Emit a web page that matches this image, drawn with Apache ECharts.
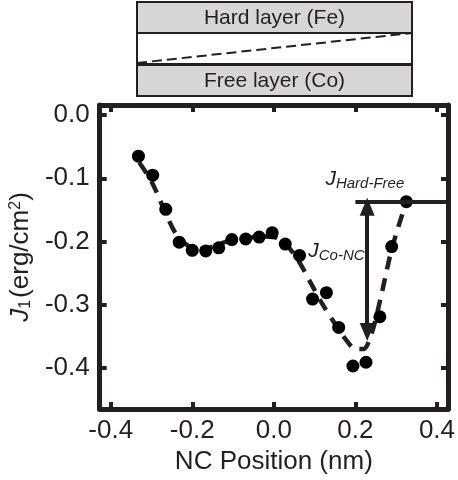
<!DOCTYPE html>
<html>
<head>
<meta charset="utf-8">
<script src="https://cdn.jsdelivr.net/npm/echarts@6/dist/echarts.min.js"></script>
<style>
  html, body { margin: 0; padding: 0; background: #fff; }
  #chart { width: 458px; height: 480px; }
</style>
</head>
<body>
<div id="chart"></div>
<script>
// measured points
var posX = [-0.332, -0.297, -0.265, -0.232, -0.200, -0.167, -0.135, -0.103, -0.069, -0.036, -0.004, 0.028, 0.063,
  0.095, 0.129, 0.159, 0.194, 0.226, 0.260, 0.289, 0.325];
var j1 = [-0.065, -0.095, -0.149, -0.201, -0.214, -0.215, -0.210, -0.197, -0.196, -0.193, -0.186, -0.204, -0.222,
  -0.291, -0.281, -0.336, -0.397, -0.391, -0.319, -0.208, -0.137];

// dashed guide curve
var fitX = [-0.33, -0.30, -0.27, -0.24, -0.21, -0.18, -0.15, -0.12, -0.09, -0.06, -0.03, 0.0, 0.03, 0.06, 0.09,
  0.12, 0.15, 0.18, 0.20, 0.22, 0.24, 0.26, 0.29, 0.325];
var fitY = [-0.075, -0.105, -0.148, -0.188, -0.207, -0.212, -0.208, -0.201, -0.196, -0.194, -0.192, -0.193, -0.205,
  -0.230, -0.265, -0.300, -0.330, -0.358, -0.370, -0.370, -0.345, -0.295, -0.210, -0.137];

var xTicks = [-0.4, -0.2, 0.0, 0.2, 0.4];
var yTicks = [0.0, -0.1, -0.2, -0.3, -0.4];

// annotation coordinates (data units)
var hardFreeY = -0.137;
var hardFreeX0 = 0.20;
var arrowX = 0.229;
var arrowTop = -0.145;
var arrowBottom = -0.343;

var dark = "#231f20";
var xMin = -0.427, xMax = 0.427, yMin = -0.465, yMax = 0.016;

var chart = echarts.init(document.getElementById("chart"));

function xAxisCfg(show) {
  return {
    type: "value",
    min: xMin,
    max: xMax,
    position: show ? "bottom" : "top",
    name: show ? "NC Position (nm)" : "",
    nameLocation: "middle",
    nameGap: 39,
    nameTextStyle: { fontFamily: "Liberation Sans", fontSize: 26, color: dark },
    axisLine: { show: true, onZero: false, lineStyle: { color: dark, width: 5 } },
    axisTick: { show: true, inside: true, length: 7, customValues: xTicks, lineStyle: { color: dark, width: 4 } },
    axisLabel: {
      show: show,
      customValues: xTicks,
      margin: 9,
      fontFamily: "Liberation Sans",
      fontSize: 26,
      color: dark,
      formatter: function (v) { return v.toFixed(1); },
    },
    splitLine: { show: false },
  };
}

function yAxisCfg(show) {
  return {
    type: "value",
    min: yMin,
    max: yMax,
    position: show ? "left" : "right",
    name: show ? "{i|J}{sub|1}{n|(erg/cm}{sup|2}{n|)}" : "",
    nameLocation: "middle",
    nameGap: 64,
    nameTextStyle: {
      fontFamily: "Liberation Sans",
      fontSize: 26,
      color: dark,
      rich: {
        i: { fontFamily: "Liberation Sans", fontStyle: "italic", fontSize: 26, color: dark },
        n: { fontFamily: "Liberation Sans", fontSize: 26, color: dark },
        sub: { fontFamily: "Liberation Sans", fontSize: 16, color: dark, verticalAlign: "bottom", padding: [10, 2, 0, 0] },
        sup: { fontFamily: "Liberation Sans", fontSize: 16, color: dark, verticalAlign: "top", padding: [0, 0, 10, 0] },
      },
    },
    axisLine: { show: true, onZero: false, lineStyle: { color: dark, width: 5 } },
    axisTick: { show: true, inside: true, length: 7, customValues: yTicks, lineStyle: { color: dark, width: 4 } },
    axisLabel: {
      show: show,
      customValues: yTicks,
      margin: 10,
      fontFamily: "Liberation Sans",
      fontSize: 26,
      color: dark,
      formatter: function (v) { return v.toFixed(1); },
    },
    splitLine: { show: false },
  };
}

var pts = posX.map(function (x, i) { return [x, j1[i]]; });
var fit = fitX.map(function (x, i) { return [x, fitY[i]]; });

chart.setOption({
  animation: false,
  backgroundColor: "#fff",
  grid: { left: 99, right: 7, top: 105, bottom: 71, containLabel: false },
  xAxis: [xAxisCfg(true), xAxisCfg(false)],
  yAxis: [yAxisCfg(true), yAxisCfg(false)],
  series: [
    {
      name: "fit",
      type: "line",
      data: fit,
      smooth: 0.3,
      showSymbol: false,
      symbol: "none",
      lineStyle: { color: dark, width: 4.5, type: [13, 9] },
      z: 2,
    },
    {
      name: "J1",
      type: "scatter",
      data: pts,
      symbol: "circle",
      symbolSize: 13,
      itemStyle: { color: "#000", opacity: 1 },
      z: 3,
      markLine: {
        silent: true,
        animation: false,
        label: { show: false },
        data: [
          [
            { coord: [hardFreeX0, hardFreeY], symbol: "none" },
            { coord: [xMax, hardFreeY], symbol: "none" },
          ],
          [
            { coord: [arrowX, arrowBottom], symbol: "triangle", symbolSize: [15, 18], symbolRotate: 180 },
            { coord: [arrowX, arrowTop], symbol: "triangle", symbolSize: [15, 18] },
          ],
        ],
        lineStyle: { color: dark, width: 4, type: "solid", opacity: 1 },
      },
    },
  ],
});

// annotation labels anchored to data coords
var pHF = chart.convertToPixel({ xAxisIndex: 0, yAxisIndex: 0 }, [hardFreeX0, hardFreeY]);
var pCo = chart.convertToPixel({ xAxisIndex: 0, yAxisIndex: 0 }, [arrowX, -0.215]);

// top layer diagram
var bx = 137, bw = 275;
chart.setOption({
  graphic: [
    { type: "rect", shape: { x: bx, y: 2, width: bw, height: 31 }, style: { fill: "#d6d6d6", stroke: dark, lineWidth: 2 } },
    { type: "rect", shape: { x: bx, y: 33, width: bw, height: 31 }, style: { fill: "#fff", stroke: dark, lineWidth: 2 } },
    { type: "rect", shape: { x: bx, y: 65, width: bw, height: 31 }, style: { fill: "#d6d6d6", stroke: dark, lineWidth: 2 } },
    { type: "line", shape: { x1: bx, y1: 63, x2: bx + bw, y2: 33 }, style: { stroke: dark, lineWidth: 2, lineDash: [10, 5] } },
    {
      type: "text", x: bx + bw / 2, y: 18,
      style: { text: "Hard layer (Fe)", fontFamily: "Liberation Sans", fontSize: 21, fill: dark, align: "center", verticalAlign: "middle" },
    },
    {
      type: "text", x: bx + bw / 2, y: 81,
      style: { text: "Free layer (Co)", fontFamily: "Liberation Sans", fontSize: 21, fill: dark, align: "center", verticalAlign: "middle" },
    },
    {
      type: "text", x: pHF[0] - 30, y: pHF[1] - 10,
      style: {
        text: "{j|J}{s|Hard-Free}",
        verticalAlign: "bottom",
        rich: {
          j: { fontFamily: "Liberation Sans", fontStyle: "italic", fontSize: 21, fill: dark },
          s: { fontFamily: "Liberation Sans", fontStyle: "italic", fontSize: 15, fill: dark, verticalAlign: "bottom", padding: [10, 0, 0, 0] },
        },
      },
    },
    {
      type: "text", x: pCo[0] - 59, y: pCo[1],
      style: {
        text: "{j|J}{s|Co-NC}",
        verticalAlign: "middle",
        rich: {
          j: { fontFamily: "Liberation Sans", fontStyle: "italic", fontSize: 21, fill: dark },
          s: { fontFamily: "Liberation Sans", fontStyle: "italic", fontSize: 15, fill: dark, verticalAlign: "bottom", padding: [10, 0, 0, 0] },
        },
      },
    },
  ],
});
</script>
</body>
</html>
